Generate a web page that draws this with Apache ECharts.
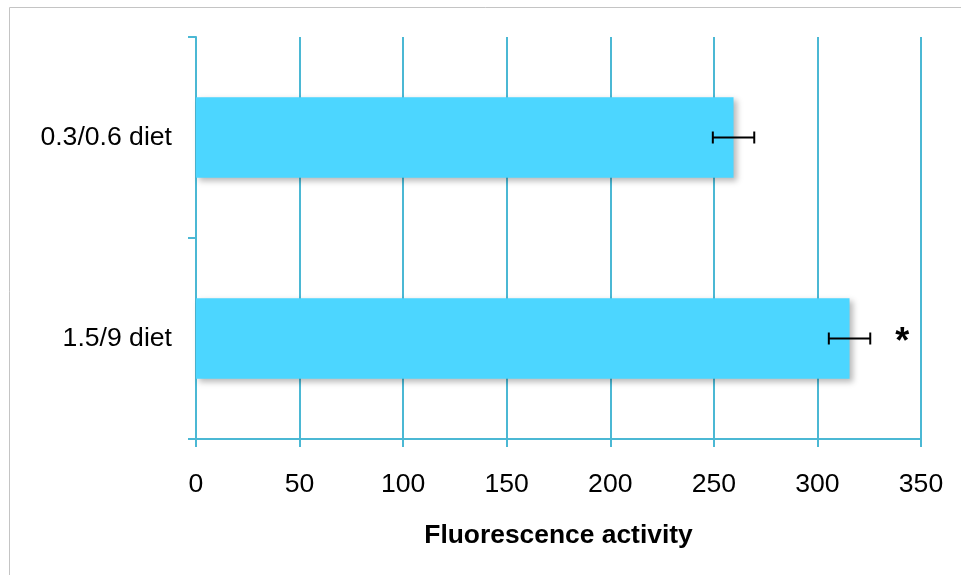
<!DOCTYPE html>
<html>
<head>
<meta charset="utf-8">
<script src="https://cdn.jsdelivr.net/npm/echarts@6/dist/echarts.min.js"></script>
<style>
html,body{margin:0;padding:0;background:#fff;}
#chart{width:961px;height:575px;}
</style>
</head>
<body>
<div id="chart"></div>
<script>
var categories = ['0.3/0.6 diet', '1.5/9 diet'];
var means = [259.5, 315.5];
var errors = [10, 10];
var significance = ['', '*'];
var xTicks = [0, 50, 100, 150, 200, 250, 300, 350];

var FONT = '"Liberation Sans", Arial, Helvetica, sans-serif';
var LINE = '#4BB8D4';
var BAR = '#4CD6FF';
var FS = 26.6;

var chart = echarts.init(document.getElementById('chart'));
var errData = means.map(function (m, i) { return [i, m - errors[i], m + errors[i]]; });

chart.setOption({
  animation: false,
  backgroundColor: '#fff',
  graphic: [
    { type: 'line', shape: { x1: 9.5, y1: 7.5, x2: 961, y2: 7.5 }, style: { stroke: '#c4c4c4', lineWidth: 1 } },
    { type: 'line', shape: { x1: 9.5, y1: 7.5, x2: 9.5, y2: 575 }, style: { stroke: '#c4c4c4', lineWidth: 1 } }
  ],
  grid: { left: 196, right: 40, top: 37, bottom: 136, containLabel: false },
  xAxis: {
    type: 'value', min: xTicks[0], max: xTicks[xTicks.length - 1], interval: 50,
    name: 'Fluorescence activity', nameLocation: 'middle', nameGap: 84,
    nameTextStyle: { fontFamily: FONT, fontSize: 26.4, fontWeight: 'bold', color: '#000' },
    axisLine: { show: true, lineStyle: { color: LINE, width: 2 } },
    axisTick: { show: true, length: 8, lineStyle: { color: LINE, width: 2 } },
    axisLabel: { margin: 32, fontFamily: FONT, fontSize: FS, color: '#000' },
    splitLine: { show: true, lineStyle: { color: LINE, width: 2 } }
  },
  yAxis: {
    type: 'category', data: categories, inverse: true,
    axisLine: { show: true, lineStyle: { color: LINE, width: 2 } },
    axisTick: { show: true, length: 8, lineStyle: { color: LINE, width: 2 } },
    axisLabel: { margin: 24, fontFamily: FONT, fontSize: FS, color: '#000' },
    splitLine: { show: false }
  },
  series: [
    {
      type: 'bar', data: means, barWidth: '40%',
      itemStyle: { color: BAR, shadowColor: 'rgba(0,0,0,0.28)', shadowBlur: 6, shadowOffsetX: 3, shadowOffsetY: 3 },
      z: 3
    },
    {
      type: 'custom', data: errData, z: 5,
      encode: { x: [1, 2], y: 0 },
      renderItem: function (params, api) {
        var i = api.value(0);
        var lo = api.coord([api.value(1), i]);
        var hi = api.coord([api.value(2), i]);
        var y = lo[1];
        var cap = 6;
        var children = [
          { type: 'line', shape: { x1: lo[0], y1: y, x2: hi[0], y2: y }, style: { stroke: '#000', lineWidth: 2 } },
          { type: 'line', shape: { x1: lo[0], y1: y - cap, x2: lo[0], y2: y + cap }, style: { stroke: '#000', lineWidth: 2 } },
          { type: 'line', shape: { x1: hi[0], y1: y - cap, x2: hi[0], y2: y + cap }, style: { stroke: '#000', lineWidth: 2 } }
        ];
        var sig = significance[params.dataIndex];
        if (sig) {
          children.push({ type: 'text', style: { text: sig, x: hi[0] + 32, y: y + 4.5, align: 'center', verticalAlign: 'middle', font: 'bold 36px ' + FONT, fill: '#000' } });
        }
        return { type: 'group', children: children };
      }
    }
  ]
});
</script>
</body>
</html>
